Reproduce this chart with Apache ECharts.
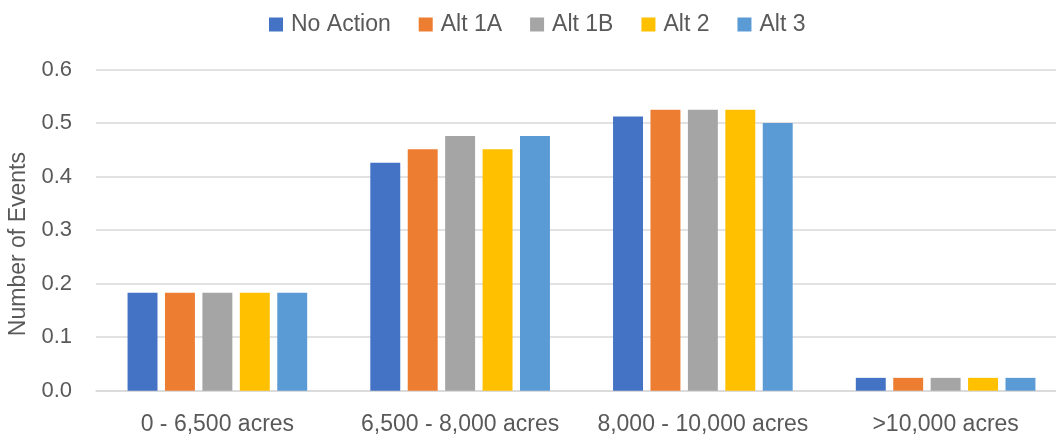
<!DOCTYPE html>
<html>
<head>
<meta charset="utf-8">
<script src="https://cdn.jsdelivr.net/npm/echarts@6/dist/echarts.min.js"></script>
<style>
html,body{margin:0;padding:0;background:#fff;}
#chart{width:1056px;height:440px;}
</style>
</head>
<body>
<div id="chart"></div>
<script>
const categories = ["0 - 6,500 acres", "6,500 - 8,000 acres", "8,000 - 10,000 acres", ">10,000 acres"];
const seriesNames = ["No Action", "Alt 1A", "Alt 1B", "Alt 2", "Alt 3"];
const noAction = [0.183, 0.426, 0.512, 0.024];
const alt1A = [0.183, 0.451, 0.525, 0.024];
const alt1B = [0.183, 0.476, 0.525, 0.024];
const alt2 = [0.183, 0.451, 0.525, 0.024];
const alt3 = [0.183, 0.476, 0.500, 0.024];
const colors = ["#4472C4", "#ED7D31", "#A5A5A5", "#FFC000", "#5B9BD5"];
const yTicks = { min: 0, max: 0.6, interval: 0.1 };

const FONT = "Liberation Sans";
const TXT = "#595959";
const allData = [noAction, alt1A, alt1B, alt2, alt3];

const chart = echarts.init(document.getElementById('chart'), null, { renderer: 'canvas' });
chart.setOption({
  animation: false,
  color: colors,
  textStyle: { fontFamily: FONT, color: TXT },
  legend: {
    top: 8,
    left: 264,
    itemWidth: 14,
    itemHeight: 14,
    itemGap: 28,
    icon: 'rect',
    textStyle: { fontFamily: FONT, fontSize: 23, color: TXT, padding: [0, 0, 0, 3] },
    data: seriesNames
  },
  grid: { left: 96, top: 69.5, bottom: 49.3, width: 971, containLabel: false, outerBoundsMode: 'none' },
  xAxis: {
    type: 'category',
    data: categories,
    axisTick: { show: false },
    axisLine: { lineStyle: { color: '#D9D9D9', width: 1.5 } },
    axisLabel: { fontFamily: FONT, fontSize: 23, color: TXT, margin: 22, interval: 0, hideOverlap: false }
  },
  yAxis: {
    type: 'value',
    min: yTicks.min,
    max: yTicks.max,
    interval: yTicks.interval,
    name: 'Number of Events',
    nameLocation: 'middle',
    nameRotate: 90,
    nameGap: 62,
    nameTextStyle: { fontFamily: FONT, fontSize: 23, color: TXT, padding: [0, 28, 0, 0] },
    axisLine: { show: false },
    axisTick: { show: false },
    axisLabel: { fontFamily: FONT, fontSize: 22, color: TXT, margin: 24, formatter: v => v.toFixed(1) },
    splitLine: { lineStyle: { color: '#D9D9D9', width: 1.5 } }
  },
  series: seriesNames.map((n, i) => ({
    name: n,
    type: 'bar',
    data: allData[i],
    barGap: '25%',
    barCategoryGap: '26%'
  }))
});
</script>
</body>
</html>
